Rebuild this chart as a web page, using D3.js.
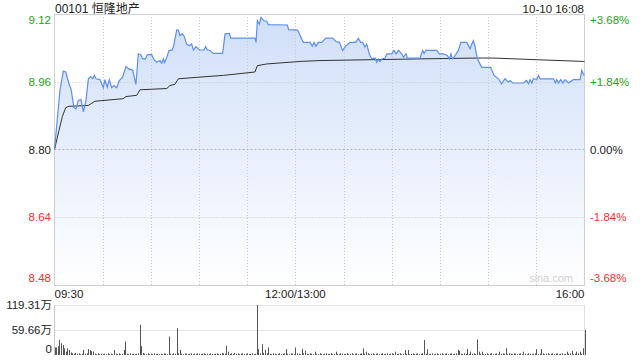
<!DOCTYPE html>
<html><head><meta charset="utf-8">
<script src="https://cdn.jsdelivr.net/npm/d3@7"></script>
<style>html,body{margin:0;padding:0;background:#fff;}svg{display:block;font-family:"Liberation Sans",Arial,sans-serif;}</style>
</head><body>
<svg id="c" width="640" height="360"></svg>
<script>
const title = "00101 恒隆地产";
const stamp = "10-10 16:08";
const prevClose = 8.80;
const priceTicks = [9.12, 8.96, 8.80, 8.64, 8.48];
const pctTicks = ["+3.68%", "+1.84%", "0.00%", "-1.84%", "-3.68%"];
const timeLabels = ["09:30", "12:00/13:00", "16:00"];
const timeLabelMinutes = [0, 150, 330];
const volTicks = [119.31, 59.66, 0];
const volTickLabels = ["119.31万", "59.66万", "0"];

const priceMin = [0,3.4,5.5,7.0,9.0,10.3,12.1,13.4,14.8,16.5,18.0,19.6,21.1,22.5,23.8,24.8,25.8,28.3,30.4,31.4,32.9,34.1,35.6,37.0,38.7,40.4,42.4,44.5,46.0,48.7,50.7,52.2,53.7,54.9,56.6,57.8,60.5,62.0,63.6,65.7,66.7,67.8,68.4,69.8,71.3,73.0,74.0,76.1,77.1,78.1,79.6,80.8,82.3,84.0,85.4,86.5,88.1,90.2,93.1,94.1,95.2,96.4,98.9,104.7,106.2,108.9,109.7,112.4,124.8,125.5,126.3,127.5,128.6,130.4,132.1,133.2,145.0,145.8,151.4,153.9,155.0,159.1,160.5,161.6,162.8,164.3,166.4,169.0,173.2,175.3,177.4,179.4,181.5,184.0,187.7,189.2,190.6,191.9,193.3,194.4,196.0,197.5,199.6,200.6,201.7,202.7,204.0,205.8,206.9,210.0,211.4,212.7,214.2,216.2,217.2,218.9,219.7,227.6,229.2,230.1,231.3,238.0,239.6,242.1,244.6,245.9,246.9,247.8,248.4,249.4,251.5,253.0,256.7,258.8,259.8,260.8,261.7,262.5,263.3,266.0,271.6,273.7,276.4,278.4,280.5,282.6,283.6,285.3,292.0,294.0,295.1,296.1,297.2,298.2,300.3,301.3,302.4,310.7,311.9,312.7,313.8,315.2,316.5,317.9,320.0,323.1,327.3,328.3,329.4,330];
const priceVal = [8.80,8.940,8.985,8.983,8.955,8.943,8.899,8.896,8.916,8.918,8.889,8.916,8.967,8.972,8.967,8.975,8.967,8.965,8.946,8.965,8.947,8.965,8.946,8.951,8.946,8.963,8.971,8.996,8.991,8.987,8.954,9.026,9.024,9.014,9.014,9.024,9.024,9.012,9.006,9.010,9.004,9.014,9.005,9.016,9.034,9.034,9.042,9.082,9.082,9.069,9.073,9.067,9.049,9.045,9.049,9.035,9.043,9.035,9.035,9.043,9.035,9.035,9.027,9.027,9.073,9.074,9.063,9.063,9.063,9.053,9.104,9.096,9.112,9.104,9.103,9.095,9.094,9.083,9.082,9.061,9.053,9.053,9.044,9.053,9.044,9.053,9.053,9.063,9.063,9.055,9.053,9.034,9.045,9.053,9.053,9.063,9.053,9.053,9.042,9.049,9.026,9.014,9.016,9.006,9.014,9.008,9.014,9.016,9.026,9.026,9.034,9.026,9.034,9.026,9.018,9.026,9.016,9.016,9.034,9.027,9.034,9.034,9.026,9.026,9.022,9.014,9.026,9.014,9.016,9.022,9.034,9.053,9.053,9.038,9.049,9.057,9.045,9.030,9.014,8.994,8.994,8.975,8.967,8.955,8.967,8.959,8.963,8.957,8.957,8.963,8.955,8.965,8.957,8.967,8.965,8.975,8.967,8.967,8.957,8.965,8.957,8.965,8.957,8.965,8.957,8.965,8.965,8.987,8.977,8.977];

const avgMin = [0,2.8,4.9,7.0,9.0,21.0,25.2,42.8,44.5,51.2,53.2,69.9,71.9,75.0,77.1,90.6,105.1,124.8,126.3,132.1,152.9,165.3,196.4,227.6,262.9,273.2,300.2,329.3,330];
const avgVal = [8.80,8.845,8.878,8.899,8.902,8.904,8.914,8.920,8.925,8.928,8.941,8.944,8.951,8.954,8.967,8.971,8.975,8.983,8.998,9.002,9.008,9.010,9.012,9.014,9.016,9.016,9.012,9.008,9.008];

const volume = [18,18,21,36,28,24,16,8,16,12,
6,4,3,5,3,4,2,3,12,3,
4,14,12,9,8,3,2,4,2,3,
2,3,2,4,2,3,2,12,3,2,
4,2,3,12,32,3,2,4,2,3,
2,3,4,72,21,5,3,2,4,2,
3,2,4,2,3,2,3,2,4,3,
2,44,3,2,4,3,64,4,12,3,
2,4,3,2,3,4,2,3,2,4,
3,2,3,4,2,3,2,4,3,2,
3,4,2,3,5,4,3,22,8,3,
4,2,5,3,4,2,3,4,2,3,
4,2,3,4,2,3,119.31,14,4,26,
5,12,4,18,3,2,4,3,2,3,
4,2,3,4,14,3,2,4,3,2,
18,4,3,2,15,4,10,3,2,4,
3,2,8,3,2,4,3,2,3,4,
2,3,4,2,3,8,3,2,4,3,
2,3,4,2,3,4,2,3,4,2,
3,4,16,3,8,4,2,3,4,2,
3,4,2,3,4,2,3,4,2,3,
4,3,8,2,3,4,2,3,12,3,
12,2,3,4,2,3,4,2,3,4,
36,3,14,2,3,4,2,3,4,2,
3,4,2,3,4,2,3,4,2,3,
4,12,10,3,2,4,3,14,2,8,
3,4,2,37,8,3,8,2,3,4,
2,3,4,2,3,4,2,8,3,4,
3,16,2,4,3,2,4,3,2,3,
4,2,8,3,2,4,3,2,3,4,
14,2,3,14,4,2,3,4,2,3,
4,2,3,4,2,3,4,2,3,8,
3,4,10,2,3,8,4,8,3,16,
60];

const svg = d3.select("#c");
const L = 54.5, R = 584.5, T = 14, B = 285;
const x = d3.scaleLinear().domain([0,330]).range([L,R]);
const y = d3.scaleLinear().domain([8.48,9.12]).range([B,T]);
const vy = d3.scaleLinear().domain([0,119.31]).range([355,305]);

const green = "#1aa31a", red = "#f0302a", dark = "#222", grid = "#c8c8c8";
const colorFor = v => v > prevClose + 1e-9 ? green : (v < prevClose - 1e-9 ? red : dark);

const defs = svg.append("defs");
const g1 = defs.append("linearGradient").attr("id","fillg").attr("x1",0).attr("y1",0).attr("x2",0).attr("y2",1);
g1.append("stop").attr("offset","0%").attr("stop-color","#d0dff8");
g1.append("stop").attr("offset","100%").attr("stop-color","#ffffff");

// area
const pts = priceMin.map((m,i)=>[m, priceVal[i]]);
svg.append("path").datum(pts)
  .attr("d", d3.area().x(d=>x(d[0])).y0(B).y1(d=>y(d[1])))
  .attr("fill","url(#fillg)");

// grid lines
const vGrid = d3.range(30,330,30);
svg.append("g").selectAll("line").data(vGrid).join("line")
  .attr("x1",d=>Math.round(x(d))+0.5).attr("x2",d=>Math.round(x(d))+0.5)
  .attr("y1",T).attr("y2",B)
  .attr("stroke",grid).attr("stroke-dasharray","1,2");
svg.append("g").selectAll("line").data([8.96,8.80,8.64]).join("line")
  .attr("x1",L).attr("x2",R)
  .attr("y1",d=>Math.round(y(d))+0.5).attr("y2",d=>Math.round(y(d))+0.5)
  .attr("stroke",d=>d===prevClose?"#b4b4b4":grid).attr("stroke-dasharray",d=>d===prevClose?"2,2":"1,2");

// border
svg.append("rect").attr("x",L).attr("y",T+0.5).attr("width",R-L).attr("height",B-T)
  .attr("fill","none").attr("stroke","#d0d0d0");

// watermark
svg.append("text").attr("x",573).attr("y",282).attr("text-anchor","end")
  .attr("font-size",11).attr("fill","#cfcfcf").text("sina.com");

// avg line
svg.append("path").datum(avgMin.map((m,i)=>[m,avgVal[i]]))
  .attr("d", d3.line().x(d=>x(d[0])).y(d=>y(d[1])))
  .attr("fill","none").attr("stroke","#333").attr("stroke-width",1);

// price line
svg.append("path").datum(pts)
  .attr("d", d3.line().x(d=>x(d[0])).y(d=>y(d[1])))
  .attr("fill","none").attr("stroke","#5c8ff0").attr("stroke-width",1.2);

// title
svg.append("text").attr("x",55).attr("y",13).attr("font-size",12).attr("fill","#222")
  .attr("font-family","'Liberation Sans','Noto Sans CJK SC',sans-serif").text(title);
svg.append("text").attr("x",584).attr("y",13).attr("font-size",11.5).attr("fill","#222")
  .attr("text-anchor","end").text(stamp);

// left price labels
const yLab = v => { const p = y(v); if (v===9.12) return p+10; if (v===8.48) return p-3; return p+4; };
svg.append("g").selectAll("text").data(priceTicks).join("text")
  .attr("x",51).attr("y",d=>yLab(d)).attr("text-anchor","end")
  .attr("font-size",11.5).attr("fill",d=>colorFor(d)).text(d=>d.toFixed(2));
svg.append("g").selectAll("text").data(pctTicks).join("text")
  .attr("x",590).attr("y",(d,i)=>yLab(priceTicks[i])).attr("text-anchor","start")
  .attr("font-size",11.5).attr("fill",(d,i)=>colorFor(priceTicks[i])).text(d=>d);

// time labels
svg.append("g").selectAll("text").data(timeLabels).join("text")
  .attr("x",(d,i)=>x(timeLabelMinutes[i]))
  .attr("y",298)
  .attr("text-anchor",(d,i)=>i===0?"start":(i===2?"end":"middle"))
  .attr("font-size",11.5).attr("fill","#222").text(d=>d);

// volume panel grid
svg.append("g").selectAll("line").data([119.31,59.66]).join("line")
  .attr("x1",L).attr("x2",R)
  .attr("y1",d=>Math.round(vy(d))+0.5).attr("y2",d=>Math.round(vy(d))+0.5)
  .attr("stroke",grid).attr("stroke-dasharray","1,1");
svg.append("line").attr("x1",L).attr("x2",L).attr("y1",305).attr("y2",356).attr("stroke","#c8c8c8");
svg.append("line").attr("x1",R).attr("x2",R).attr("y1",305).attr("y2",356).attr("stroke","#e0e0e0");

// volume bars
svg.append("g").selectAll("rect").data(volume).join("rect")
  .attr("x",(d,i)=>Math.round(x(i)))
  .attr("width",1)
  .attr("y",d=>vy(d))
  .attr("height",d=>355-vy(d))
  .attr("fill","#555");

svg.append("g").selectAll("text").data(volTicks).join("text")
  .attr("x",52).attr("y",(d,i)=>vy(d)+(i===2?-2:4)).attr("text-anchor","end")
  .attr("font-size",11.5).attr("fill","#222")
  .attr("font-family","'Liberation Sans','Noto Sans CJK SC',sans-serif")
  .text((d,i)=>volTickLabels[i]);
</script>
</body></html>
